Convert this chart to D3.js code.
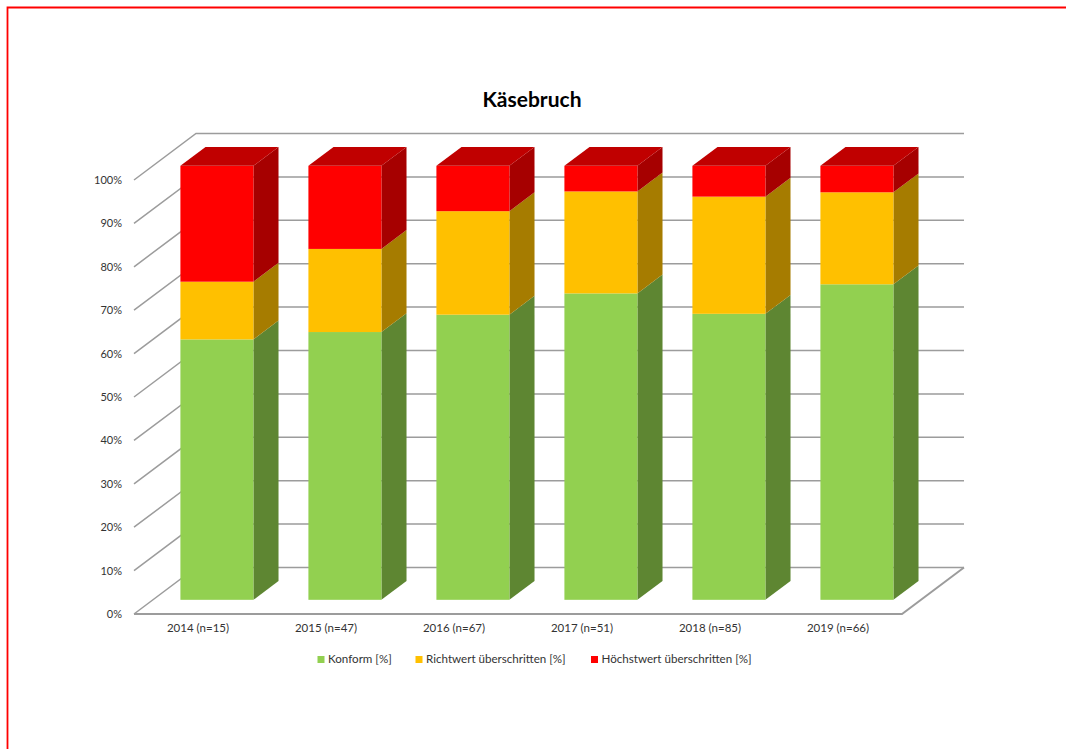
<!DOCTYPE html>
<html><head><meta charset="utf-8">
<script src="https://cdn.jsdelivr.net/npm/d3@7/dist/d3.min.js"></script>
<style>html,body{margin:0;padding:0;background:#fff;overflow:hidden}svg{display:block}text{font-family:Lato,"Open Sans",sans-serif}</style>
</head><body><svg id="c" width="1066" height="749"></svg>
<script>
const categories = ["2014 (n=15)","2015 (n=47)","2016 (n=67)","2017 (n=51)","2018 (n=85)","2019 (n=66)"];
const konform = [60, 61.7, 65.7, 70.6, 65.9, 72.7];
const richtwert = [13.3, 19.15, 23.85, 23.5, 27, 21.2];
const hoechstwert = [26.7, 19.15, 10.45, 5.9, 7.1, 6.1];
const seriesNames = ["Konform [%]","Richtwert überschritten [%]","Höchstwert überschritten [%]"];
const yTicks = [0,10,20,30,40,50,60,70,80,90,100];
const frontColors = ["#92d050","#ffc000","#ff0000"];
const sideColors = ["#5e8632","#a67c00","#a60000"];
const topColor = "#c00000";
const gridColor = "#9c9c9c";
const textColor = "#333333";

const svg = d3.select("#c");
svg.append("path").attr("d","M7.5,749V7.5H1066")
  .attr("fill","none").attr("stroke","#ff0000").attr("stroke-width",1.8);

// front plane of the chart box; depth runs 0 (front) to 1 (back wall)
const x = d3.scaleBand().domain(categories).range([134,902]);
const y = d3.scaleLinear().domain([0,100]).range([614,180]);
const dx = d3.scaleLinear().domain([0,1]).range([0,62]);
const dy = d3.scaleLinear().domain([0,1]).range([0,46.5]);
const P = (px,v,d)=>[px+dx(d), y(v)-dy(d)];
const line = d3.line();

// walls and floor
const g = svg.append("g").attr("fill","none").attr("stroke",gridColor).attr("stroke-width",1.5);
yTicks.forEach(v=>{
  g.append("path").attr("d",line([P(134,v,0),P(134,v,1),P(902,v,1)]));
});
g.append("path").attr("d",line([P(902,0,1),P(902,0,0),P(134,0,0)])).attr("stroke-width",2);

// bars
const stack = d3.stack().keys([0,1,2]).value((d,k)=>d[k]);
const rows = categories.map((c,i)=>[konform[i],richtwert[i],hoechstwert[i]]);
const layers = stack(rows);
const d0 = 0.305, d1 = 0.71;
const barW = 73;
categories.forEach((c,i)=>{
  const cx = x(c)+x.bandwidth()/2;
  const l = cx-barW/2, r = cx+barW/2;
  const b = svg.append("g");
  layers.forEach((layer,k)=>{
    const [v0,v1] = layer[i];
    b.append("path").attr("fill",sideColors[k])
      .attr("d",line([P(r,v0,d0),P(r,v0,d1),P(r,v1,d1),P(r,v1,d0)])+"Z");
    const a = P(l,v1,d0), e = P(r,v0,d0);
    b.append("rect").attr("x",a[0]).attr("y",a[1]).attr("width",e[0]-a[0]).attr("height",e[1]-a[1]).attr("fill",frontColors[k]);
  });
  b.append("path").attr("fill",topColor)
    .attr("d",line([P(l,100,d0),P(l,100,d1),P(r,100,d1),P(r,100,d0)])+"Z");
});

// axis labels
const yAxis = d3.axisLeft(y).tickValues(yTicks).tickFormat(d=>d+"%").tickSize(0).tickPadding(12);
const ga = svg.append("g").attr("transform","translate(134,0)").call(yAxis);
ga.select(".domain").remove();
ga.selectAll("text").attr("font-size",11).attr("fill",textColor).style("font-family","Lato");
const xAxis = d3.axisBottom(x).tickSize(0).tickPadding(10);
const gx = svg.append("g").attr("transform","translate(0,614)").call(xAxis);
gx.select(".domain").remove();
gx.selectAll("text").attr("font-size",11.5).attr("fill",textColor).style("font-family","Lato");

svg.append("text").attr("x",532).attr("y",107).attr("text-anchor","middle")
  .attr("font-size",21).attr("font-weight",700).attr("fill","#000").text("Käsebruch");

// legend
const legendX = [317.5,415.5,591];
seriesNames.forEach((n,k)=>{
  svg.append("rect").attr("x",legendX[k]).attr("y",656).attr("width",7).attr("height",7).attr("fill",frontColors[k]);
  svg.append("text").attr("x",legendX[k]+10.5).attr("y",663).attr("font-size",11.6).attr("fill",textColor).text(n);
});
</script></body></html>
